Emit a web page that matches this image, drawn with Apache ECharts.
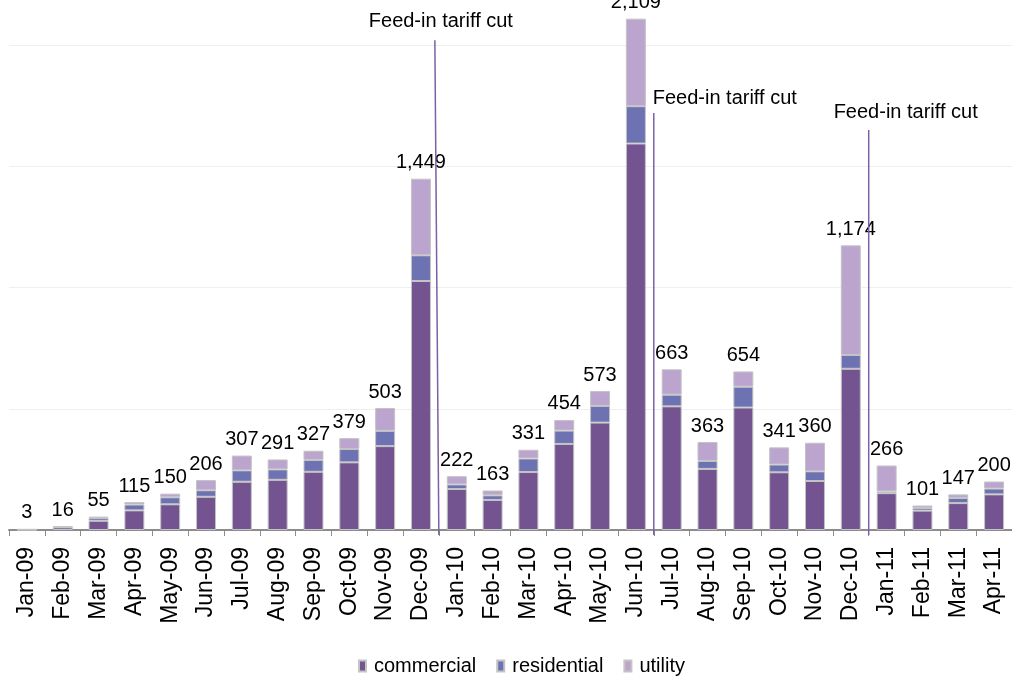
<!DOCTYPE html>
<html>
<head>
<meta charset="utf-8">
<script src="https://cdn.jsdelivr.net/npm/echarts@6/dist/echarts.min.js"></script>
<style>
  html, body { margin: 0; padding: 0; background: #ffffff; }
  #chart { width: 1012px; height: 677px; }
</style>
</head>
<body>
<div id="chart"></div>
<script>
// Monthly installations (MW), split by segment
const months = [
  'Jan-09', 'Feb-09', 'Mar-09', 'Apr-09', 'May-09', 'Jun-09', 'Jul-09',
  'Aug-09', 'Sep-09', 'Oct-09', 'Nov-09', 'Dec-09', 'Jan-10', 'Feb-10',
  'Mar-10', 'Apr-10', 'May-10', 'Jun-10', 'Jul-10', 'Aug-10', 'Sep-10',
  'Oct-10', 'Nov-10', 'Dec-10', 'Jan-11', 'Feb-11', 'Mar-11', 'Apr-11'
];
const commercial = [
  1, 11, 38, 81, 106, 137, 199, 207, 240, 279, 346, 1027, 169, 124,
  239, 355, 443, 1594, 510, 252, 505, 238, 202, 665, 152, 80, 111, 147
];
const residential = [
  1, 2, 12, 24, 29, 27, 47, 43, 49, 55, 63, 106, 19, 19,
  56, 55, 69, 154, 48, 33, 86, 32, 40, 57, 7, 11, 21, 24
];
const utility = [
  1, 3, 5, 10, 15, 42, 61, 41, 38, 45, 94, 316, 34, 20,
  36, 44, 61, 361, 105, 78, 63, 71, 118, 452, 107, 10, 15, 29
];

// Policy events: line drawn on the boundary after the given month
const tariffCuts = [
  { after: 'Dec-09', top: 2020, text: 'Feed-in tariff cut' },
  { after: 'Jun-10', top: 1720, text: 'Feed-in tariff cut' },
  { after: 'Dec-10', top: 1650, text: 'Feed-in tariff cut' }
];

const totals = months.map((_, i) => commercial[i] + residential[i] + utility[i]);

const FONT = "'Liberation Sans', Arial, sans-serif";
const COLORS = { commercial: '#735490', residential: '#6d72b3', utility: '#bba5cf' };
const EDGE = '#c4c4c4';

const chart = echarts.init(document.getElementById('chart'), null, { renderer: 'canvas' });

function barSeries(name, data, extra) {
  return Object.assign({
    name: name,
    type: 'bar',
    stack: 'total',
    data: data,
    barWidth: 20,
    itemStyle: { color: COLORS[name], borderColor: EDGE, borderWidth: 1 }
  }, extra || {});
}

chart.setOption({
  animation: false,
  textStyle: { fontFamily: FONT },
  grid: { left: 9, right: -8, top: 0, bottom: 147, containLabel: false },
  legend: {
    left: 353,
    top: 651,
    icon: 'rect',
    itemWidth: 7,
    itemHeight: 11,
    itemGap: 20,
    textStyle: { fontFamily: FONT, fontSize: 20, color: '#000', padding: [0, 0, 0, 3] },
    data: ['commercial', 'residential', 'utility']
  },
  xAxis: {
    type: 'category',
    data: months,
    boundaryGap: true,
    axisLine: { lineStyle: { color: '#8c8c8c', width: 2 } },
    axisTick: { show: true, length: 6, lineStyle: { color: '#8c8c8c', width: 1 } },
    axisLabel: {
      rotate: 90,
      margin: 17,
      fontFamily: FONT,
      fontSize: 23,
      color: '#000',
      interval: 0
    }
  },
  yAxis: {
    type: 'value',
    min: 0,
    max: 2186,
    interval: 500,
    axisLine: { show: false },
    axisTick: { show: false },
    axisLabel: { show: false },
    splitLine: { showMaxLine: false, lineStyle: { color: '#efefef', width: 1 } }
  },
  series: [
    barSeries('commercial', commercial),
    barSeries('residential', residential),
    barSeries('utility', utility, {
      label: {
        show: true,
        position: 'top',
        distance: 6,
        fontFamily: FONT,
        fontSize: 20,
        color: '#000',
        formatter: p => totals[p.dataIndex].toLocaleString('en-US')
      }
    })
  ]
});

// Annotation lines and captions, placed through the chart's own coordinate system
const captionLayout = [
  { dx: 2, dy: -19, lean: -4 },
  { dx: 71, dy: -14, lean: 0 },
  { dx: 37, dy: -17, lean: 0 }
];

const graphics = [];
tariffCuts.forEach((cut, k) => {
  const i = months.indexOf(cut.after);
  const a = chart.convertToPixel({ gridIndex: 0 }, [i, 0]);
  const b = chart.convertToPixel({ gridIndex: 0 }, [i + 1, 0]);
  const x = (a[0] + b[0]) / 2;
  const yBase = a[1];
  const yTop = chart.convertToPixel({ gridIndex: 0 }, [i, cut.top])[1];
  const lay = captionLayout[k];
  graphics.push({
    type: 'line',
    z: 10,
    shape: { x1: x + lay.lean, y1: yTop, x2: x, y2: yBase + 5 },
    style: { stroke: '#7c60a6', lineWidth: 1.5 }
  });
  graphics.push({
    type: 'text',
    z: 10,
    x: x + lay.dx,
    y: yTop + lay.dy,
    style: {
      text: cut.text,
      font: '20px ' + FONT,
      fill: '#000',
      align: 'center',
      verticalAlign: 'middle'
    }
  });
});
chart.setOption({ graphic: graphics });
</script>
</body>
</html>
